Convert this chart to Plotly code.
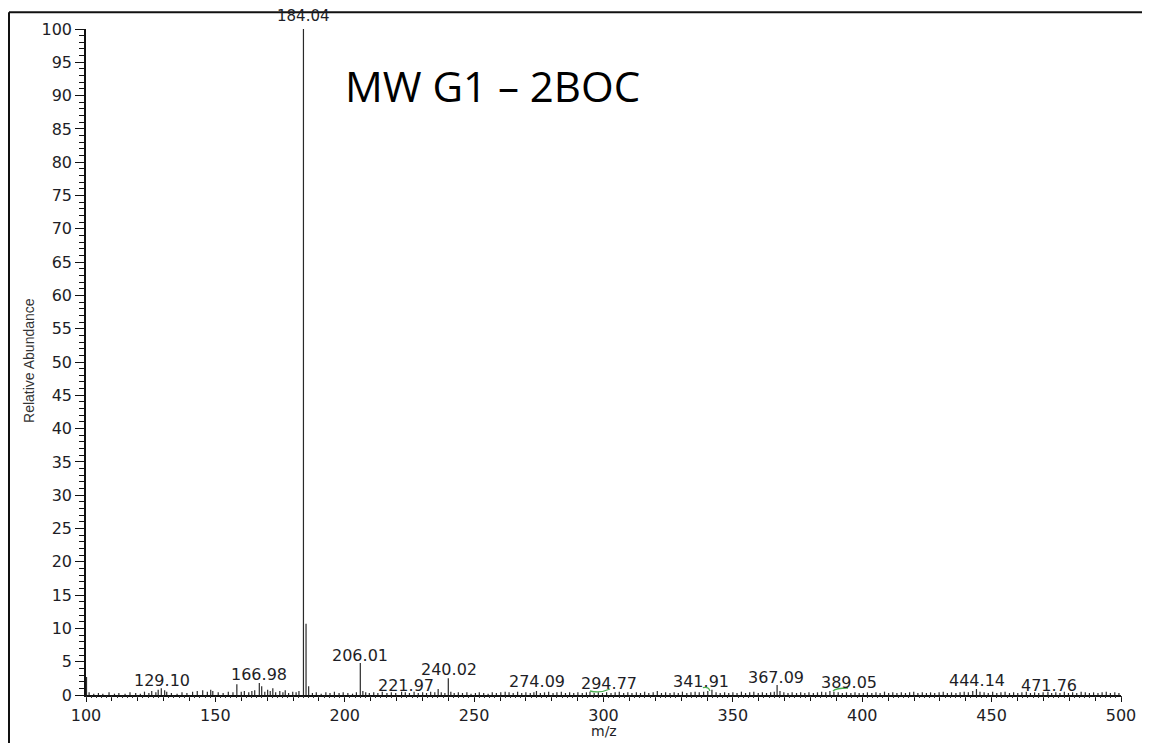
import plotly.graph_objects as go

# ---------------- data ----------------
# labelled peaks (m/z, relative abundance)
peak_mz = [129.10, 166.98, 184.04, 206.01, 221.97, 240.02, 274.09, 294.77,
           341.91, 367.09, 389.05, 444.14, 471.76]
peak_int = [1.0, 1.8, 100.0, 4.8, 0.5, 2.5, 0.6, 0.5, 0.8, 1.5, 0.5, 0.9, 0.5]
peak_label = ["129.10", "166.98", "184.04", "206.01", "221.97", "240.02", "274.09",
              "294.77", "341.91", "367.09", "389.05", "444.14", "471.76"]

# other (unlabelled) peaks and baseline noise
minor_mz = [100.2, 101.2, 103.0, 104.8, 106.5, 108.9, 111.0, 112.7, 115.1, 117.0, 119.2,
            121.0, 122.6, 124.3, 125.4, 127.0, 127.9, 130.4, 131.2, 133.0, 135.2, 137.1,
            139.0, 141.2, 143.0, 145.1, 146.9, 148.2, 149.0, 151.1, 153.0, 155.0, 156.8,
            158.3, 160.0, 161.2, 162.9, 164.1, 165.2, 167.9, 169.1, 170.2, 171.2, 172.2,
            173.3, 174.9, 176.1, 177.0, 178.3, 179.9, 181.2, 182.3, 185.04, 186.05, 187.5,
            189.0, 190.9, 192.7, 194.3, 196.0, 197.8, 199.4, 201.2, 203.0, 204.5, 207.0,
            208.1, 209.5, 211.2, 212.8, 214.5, 216.3, 218.0, 219.7, 223.4, 225.0, 226.8,
            228.4, 230.1, 231.6, 233.2, 234.8, 236.1, 237.3, 238.7, 241.0, 242.3, 243.9,
            245.5, 247.2, 248.8, 250.5, 252.0, 253.7, 255.4, 257.0, 258.6, 260.3, 262.0,
            263.5, 265.1, 266.8, 268.4, 270.0, 271.7, 273.1, 275.6, 277.2, 278.8, 280.5,
            282.0, 283.7, 285.3, 286.9, 288.5, 290.1, 291.8, 293.4, 296.4, 298.0, 299.6,
            301.2, 302.9, 304.5, 306.1, 307.8, 309.4, 311.0, 312.7, 314.3, 315.9, 317.5,
            319.2, 320.8, 322.4, 324.0, 325.7, 327.3, 328.9, 330.5, 332.2, 333.8, 335.4,
            337.0, 338.7, 340.3, 343.5, 345.1, 346.8, 348.4, 350.0, 351.6, 353.3, 354.9,
            356.5, 358.1, 359.8, 361.4, 363.0, 364.6, 366.0, 368.2, 369.7, 371.3, 372.9,
            374.6, 376.2, 377.8, 379.4, 381.1, 382.7, 384.3, 385.9, 387.5, 390.7, 392.3,
            393.9, 395.6, 397.2, 398.8, 400.4, 402.0, 403.7, 405.3, 406.9, 408.6, 410.2,
            411.8, 413.4, 415.1, 416.7, 418.3, 419.9, 421.5, 423.2, 424.8, 426.4, 428.0,
            429.7, 431.3, 432.9, 434.5, 436.2, 437.8, 439.4, 441.0, 442.7, 445.5, 447.1,
            448.7, 450.4, 452.0, 453.6, 455.2, 456.9, 458.5, 460.1, 461.7, 463.4, 465.0,
            466.6, 468.2, 469.9, 473.2, 474.8, 476.4, 478.1, 479.7, 481.3, 482.9, 484.6,
            486.2, 487.8, 489.4, 491.1, 492.7, 494.3, 495.9, 497.6, 499.2]
minor_int = [2.7, 0.4, 0.2, 0.3, 0.2, 0.4, 0.2, 0.3, 0.2, 0.4, 0.3,
             0.2, 0.5, 0.3, 0.6, 0.4, 0.8, 0.7, 0.5, 0.3, 0.2, 0.4,
             0.3, 0.5, 0.6, 0.7, 0.5, 0.8, 0.6, 0.4, 0.3, 0.5, 0.4,
             1.6, 0.5, 0.6, 0.4, 0.6, 0.7, 1.3, 0.5, 0.8, 0.6, 1.0,
             0.4, 0.6, 0.4, 0.7, 0.3, 0.5, 0.4, 0.6, 10.7, 1.3, 0.3,
             0.4, 0.2, 0.4, 0.3, 0.5, 0.3, 0.4, 0.3, 0.2, 0.4, 0.6,
             0.4, 0.3, 0.4, 0.3, 0.5, 0.3, 0.4, 0.3, 0.4, 0.3, 0.5,
             0.3, 0.4, 0.3, 0.5, 0.4, 0.9, 0.4, 0.3, 0.5, 0.3, 0.4,
             0.3, 0.4, 0.2, 0.3, 0.4, 0.3, 0.2, 0.4, 0.3, 0.4, 0.5,
             0.4, 0.3, 0.5, 0.3, 0.4, 0.3, 0.4, 0.3, 0.4, 0.5, 0.3,
             0.4, 0.5, 0.3, 0.4, 0.3, 0.4, 0.3, 0.4, 0.3, 0.4, 0.3,
             0.4, 0.3, 0.4, 0.5, 0.3, 0.4, 0.3, 0.4, 0.3, 0.5, 0.3,
             0.4, 0.6, 0.3, 0.4, 0.3, 0.4, 0.3, 0.5, 0.3, 0.4, 0.5,
             0.4, 0.5, 0.6, 0.4, 0.3, 0.4, 0.3, 0.4, 0.3, 0.5, 0.3,
             0.4, 0.5, 0.3, 0.4, 0.3, 0.4, 0.5, 0.6, 0.4, 0.3, 0.4,
             0.3, 0.4, 0.3, 0.4, 0.3, 0.4, 0.5, 0.4, 0.6, 0.4, 0.3,
             0.4, 0.3, 0.4, 0.3, 0.3, 0.4, 0.3, 0.4, 0.3, 0.5, 0.3,
             0.4, 0.3, 0.4, 0.3, 0.4, 0.5, 0.3, 0.4, 0.3, 0.4, 0.3,
             0.4, 0.5, 0.3, 0.4, 0.3, 0.4, 0.5, 0.4, 0.6, 0.5, 0.4,
             0.3, 0.5, 0.3, 0.4, 0.5, 0.3, 0.4, 0.3, 0.4, 0.5, 0.3,
             0.4, 0.3, 0.4, 0.3, 0.4, 0.3, 0.5, 0.3, 0.4, 0.3, 0.5,
             0.4, 0.3, 0.4, 0.3, 0.4, 0.5, 0.3, 0.4, 0.3]

x_ticks = [100, 150, 200, 250, 300, 350, 400, 450, 500]
y_ticks = list(range(0, 101, 5))
x_title = "m/z"
y_title = "Relative Abundance"
chart_title = "MW G1 \u2013 2BOC"

# ---------------- layout helpers (positions, not data) ----------------
Y_MAX = 100.0
# label placement (x in m/z, y in abundance units)
label_pos = {
    "129.10": (129.2, 2.2), "166.98": (166.9, 3.1), "184.04": (184.2, 102.0),
    "206.01": (205.7, 6.0), "221.97": (223.7, 1.5), "240.02": (240.3, 3.9),
    "274.09": (274.2, 2.0), "294.77": (302.1, 1.7), "341.91": (337.7, 2.0),
    "367.09": (366.7, 2.7), "389.05": (394.9, 1.86), "444.14": (444.3, 2.16),
    "471.76": (472.0, 1.41),
}

all_mz = peak_mz + minor_mz
all_int = peak_int + minor_int
sx, sy = [], []
for m, v in zip(all_mz, all_int):
    sx += [m, m, None]
    sy += [0, v, None]

fig = go.Figure()
fig.add_trace(go.Scatter(x=sx, y=sy, mode="lines", xaxis="x2",
                         line=dict(color="#2a2a2a", width=1.2),
                         hoverinfo="skip", showlegend=False))

tick_font = dict(family="DejaVu Sans", size=16, color="#1e1e26")

annotations = []
for lab in peak_label:
    px_, py_ = label_pos[lab]
    annotations.append(dict(x=px_, y=py_ / Y_MAX, xref="x", yref="paper", text=lab,
                            showarrow=False, xanchor="center", yanchor="middle",
                            font=dict(family="DejaVu Sans", size=16 if lab != "184.04" else 15,
                                      color="#1e1e26")))
annotations.append(dict(x=0.3925, y=0.915, xref="paper", yref="paper", text=chart_title,
                        showarrow=False, xanchor="center", yanchor="middle",
                        font=dict(family="Open Sans", size=42, color="#000000")))
annotations.append(dict(x=-0.0551, y=0.503, xref="paper", yref="paper", text=y_title,
                        textangle=-90, showarrow=False, xanchor="center", yanchor="middle",
                        font=dict(family="Liberation Sans", size=14, color="#333333")))
annotations.append(dict(x=0.5005, y=-0.0545, xref="paper", yref="paper", text=x_title,
                        showarrow=False, xanchor="center", yanchor="middle",
                        font=dict(family="DejaVu Sans", size=14, color="#1e1e26")))

shapes = [
    # outer frame (left and top edges)
    dict(type="line", xref="paper", yref="paper", x0=-0.0744, x1=1.04, y0=1.0253, y1=1.0253,
         line=dict(color="#111111", width=2)),
    dict(type="line", xref="paper", yref="paper", x0=-0.0744, x1=-0.0744, y0=1.0253, y1=-0.08,
         line=dict(color="#111111", width=2)),
    # small green hand marks
    dict(type="path", xref="x", yref="y", path="M 294.8,0.6 Q 298.5,0.2 302.5,0.9",
         line=dict(color="#4caf50", width=1.3)),
    dict(type="path", xref="x", yref="y", path="M 338.4,1.1 Q 340.8,1.3 341.1,0.6",
         line=dict(color="#4caf50", width=1.3)),
    dict(type="path", xref="x", yref="y", path="M 388.7,0.6 Q 389.8,1.05 394.5,1.05",
         line=dict(color="#4caf50", width=1.3)),
]

fig.update_layout(
    width=1150, height=743,
    margin=dict(l=78, r=37, t=15, b=56),
    paper_bgcolor="white", plot_bgcolor="white",
    showlegend=False,
    xaxis=dict(range=[100, 500], tickvals=x_ticks, ticks="outside", ticklen=5,
               tickcolor="#111111", tickwidth=1, showline=True, linecolor="#111111",
               linewidth=1.5, showgrid=False, zeroline=False, tickfont=tick_font,
               minor=dict(dtick=10, ticks="outside", ticklen=4, tickcolor="#111111",
                          showgrid=False)),
    xaxis2=dict(range=[100, 500], overlaying="x", anchor="y", side="bottom",
                dtick=2, tick0=100, ticks="outside", ticklen=2, tickcolor="#333333",
                showticklabels=False, showline=False, showgrid=False, zeroline=False),
    yaxis=dict(range=[0, 100], tickvals=y_ticks, ticks="outside", ticklen=9,
               tickcolor="#111111", tickwidth=1, showline=True, linecolor="#111111",
               linewidth=1.5, showgrid=False, zeroline=False, tickfont=tick_font,
               minor=dict(dtick=1, ticks="outside", ticklen=5, tickcolor="#111111",
                          showgrid=False)),
    annotations=annotations,
    shapes=shapes,
)

fig.write_html("out.html")
